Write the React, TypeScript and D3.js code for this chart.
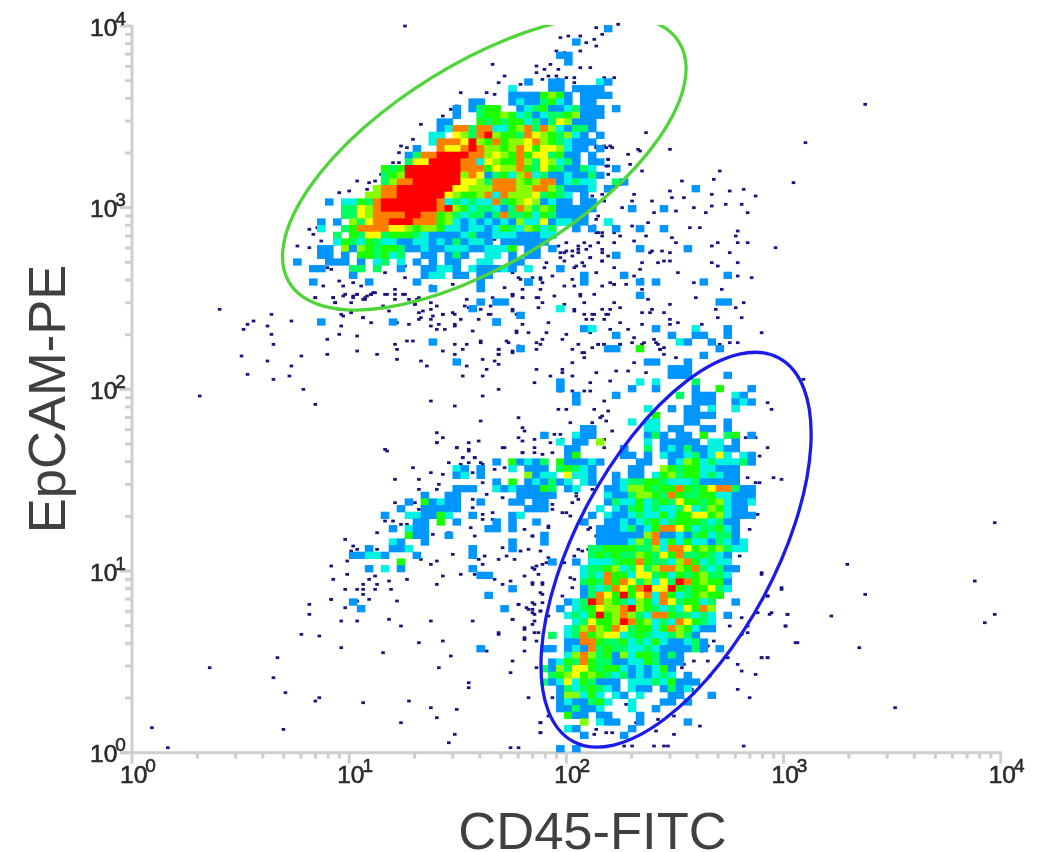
import React, { useEffect, useRef } from "react";
import * as d3 from "d3";

// axis ticks
const decades = [1, 10, 100, 1000, 10000];
const decadeExponents = ["0", "1", "2", "3", "4"];
const xTitle = "CD45-FITC";
const yTitle = "EpCAM-PE";

// gates: centre as fluorescence values
const gates = [
  { name: "epcam", cd45: 41.9, epcam: 1770, rx: 229, ry: 100, angle: -31.7, color: "#4fd43a" },
  { name: "cd45", cd45: 320, epcam: 13.1, rx: 217.6, ry: 99.4, angle: -61.8, color: "#1c1ce8" }
];

// density level of a bin -> colour
const levelColors: Record<string, string> = {
  b: "#0096ff",
  c: "#00f2e0",
  g: "#00ff60",
  l: "#1cff00",
  h: "#88ff00",
  y: "#ffff00",
  o: "#ff8000",
  r: "#ff0000"
};

// [epcam bin, first cd45 bin, density levels]
const upperCells: [number, number, string][] = [
  [108, 59, "b"], [106, 55, "b"], [104, 53, "bb"], [103, 54, "b"],
  [100, 49, "b  bb    cb"], [99, 47, "c    bb bbbb"], [98, 47, "bbbblhlb bbbb"],
  [97, 42, "bb   bcbbglcb bb"], [96, 40, "b bgll  bcglbbcgbbb b"], [95, 40, "b  gllhlcgbcgglhbbb"],
  [94, 38, "bb   lglgllcgbgyhbbb"], [93, 38, "bcoogoocclhogohcbggb"],
  [92, 37, "cc yhgorhllgoyhlghcb b"], [91, 37, "coooyrhlolhhyohlgcbbb"],
  [90, 35, "b  oyyorohhlhoylyyhcbb b"], [89, 34, "bgoorrrroohyhlolyyglbb b"],
  [88, 34, "gyyrrrroocyhllohgyhcgb bb"], [87, 31, "lglrrrrrrrooolyhholgylgbbgc  b"],
  [86, 31, "glhrrrrrrrhoybglchocgbbcbbgb"], [85, 31, "ghoorrrrrryyhgooohlhoobcgcc  gb"],
  [84, 30, "hoorrrrrrryyhhhooohhoohgbbbc b"], [83, 29, "hhoorrrrrryhllhocohhhyglgc b"],
  [82, 24, "b cclgorrrrrrrocgcgccoglhyhbcbb bb"], [81, 26, "ggyhorrrrrrrorhlcggcbgohghlhlb"],
  [80, 26, "ggyhoooorroolhgcggbgogglclgbbbb"], [79, 23, "b b hgyoorrrooolhcbcbcbcbhccybgcbb  c"],
  [78, 23, "c  glooooyyhlhhlccbccbclgchlcg  b"], [77, 25, "g lgyyglllgcbbbbcgbbcccbbbcc"],
  [76, 25, "clgclgccbbccbcbgbccb bbbbbb"], [75, 23, "bb hbhlgllgbbcbbcccbbcccl bb b"],
  [74, 23, "bb b llglcg  bb bgb  cc b bb"], [73, 20, "b   bbb b cg c b b bb  cc  bb"],
  [72, 22, "bb   gg g  b  bbccb cbbbcb c"], [71, 27, "b        bcc bb bb"],
  [70, 22, "b      b     b       b     b"], [69, 37, "b     b"], [67, 43, "b bb"],
  [66, 42, "b"], [65, 48, "b"], [64, 23, "b        b            b"], [61, 37, "b"], [58, 40, "b"]
];

// isolated bins between the two populations
const middleCells: [number, number, string][] = [
  [84, 59, "b          b"], [82, 57, "b"], [81, 53, "bbbbb    b   b"], [79, 53, "c     c"],
  [78, 57, "b  b  b  b"], [75, 63, "b     b"], [74, 60, "b"], [72, 53, "b"], [71, 56, "b    b            b"],
  [70, 49, "b      b      b b     b"], [68, 63, "b"], [67, 73, "bb"], [66, 53, "c"], [64, 45, "b"],
  [63, 56, "bc       b    c   b"], [62, 60, "b      b  bb  b"], [61, 68, "cb  b"], [60, 48, "b"],
  [60, 59, "bb  l         b"], [59, 71, "b"]
];

// the streak running down to the left of the CD45 population
const branchCells: [number, number, string][] = [
  [47, 51, "b"], [46, 53, "c"], [45, 54, "bb"], [44, 54, "bl"], [43, 45, "b lbcbg lbbbc"],
  [42, 40, "cb b   c bbb glgcb"], [41, 40, "bc b     hbcc yccb"], [40, 45, "b l bcbgbc cg"],
  [39, 40, "bbb  cbcbbblg bc"], [38, 36, "b  bb"], [38, 48, "bbbbb"], [37, 34, "b lbcbb"], [37, 43, "b"], [37, 47, "bb bb"],
  [36, 33, "b  bbbbb"], [36, 49, "bbb"], [35, 31, "b  ccbblc  b    bc"], [34, 35, "bb l b    b b  b"],
  [33, 32, "b cbb       bb b"], [32, 34, "lbb  b"], [32, 51, "b"], [31, 32, "cb  b"], [31, 47, "b"], [31, 51, "b"],
  [30, 29, "b  bbc"], [30, 42, "b"], [30, 47, "b"], [29, 27, "bbccb"], [29, 35, "b"], [29, 42, "b"],
  [28, 33, "l"], [28, 52, "b"], [27, 29, "b c b"], [27, 42, "b"], [26, 43, "bb"], [24, 47, "b"],
  [23, 44, "b"], [22, 27, "b"], [21, 28, "b"], [21, 46, "b"], [15, 43, "b"]
];

const lowerCells: [number, number, string][] = [
  [58, 64, "bb   b"], [57, 67, "bbb"], [56, 67, "bbb    b"], [55, 53, "b"], [55, 63, "c c    g"],
  [54, 53, "b"], [54, 62, "b  b    b  l   b"], [53, 55, "b    b       g bbb  cb"], [52, 55, "b"], [52, 70, "bbb  bcb"],
  [51, 64, "c  b bb c  c"], [50, 65, "l   bbbb"], [49, 62, "c cc   bb   b"], [48, 56, "bb"], [48, 64, "cc bb  bb b"],
  [47, 55, "cbb"], [47, 64, "bgb bb l  gl b"], [46, 55, "bb h"], [46, 64, "c bbbbb cc b"],
  [45, 61, "b  g bcbgbbccbb"], [44, 61, "bb b cbbcgbcyc cb"], [43, 58, "b    bb  bchlcgcccgb"], [42, 62, "bb  hlgllccbbb"],
  [41, 60, "b bb clhgllcgcbb"], [40, 57, "b  bcggllgcccgbbbbb"],
  [39, 59, "bbchhlgllolglyoogbb"], [38, 59, "cbbghhlgolggllccbbb"], [37, 59, "bgcclcglgyllglhcbbc"],
  [36, 58, "c cbglcgccgycghlcbb"], [35, 57, "b cbbcgcclcllyylhcbbb"], [34, 56, "b  bbcbcglcglllgcgbb"],
  [33, 58, "bbbcgbclooylcgglcb"], [32, 58, "bbbbbbhobbcbglcggb"], [31, 58, "bbbbchgoclclccbgcbc"],
  [30, 57, "ggllllgghcooylhlhgcc"], [29, 57, "glglgghlgylogglgcb"], [28, 55, "b cccgllolggcholcgcc"],
  [27, 56, "cgglhcgyghoohlogcgbb"], [26, 56, "cgcollcyyglclglhggc"], [25, 56, "glgoloyghcygrolhllb"],
  [24, 56, "bgcgoyloryyrlgllygc"], [23, 56, "bgoylrlyocolcglhll"], [22, 54, "bcgrohlgchlcoygllcg  b"],
  [21, 53, "b cglyhhorhlgcgcyloh"], [20, 54, "cgclrlhohgcoolggcgc b"], [19, 55, "cgyllhrolhcgcoylgc"],
  [18, 54, "cghohloygllclohlcbb"], [17, 52, "g cgolhyycglgccghgb"], [16, 54, "bboolgglcgclcbbcgb"],
  [15, 51, "bb bcboglggccgcbbbbgb b"], [14, 54, "chohglbhcllgbgb"], [13, 52, "bclgolggbbcclgbbb"],
  [12, 51, "gbhgyylgllcbcbclb"], [11, 52, "glhylhlgcgbcbcgc b"], [10, 51, "gbcyclgbbb cccgclbbb"],
  [9, 53, "bgcglgcb cbb bgbc"], [8, 53, "bhhclc cb c   bb   b"], [7, 53, "bcbbglc  c   bb b"],
  [6, 53, "bbgbbc   c  b"], [5, 54, "lbb bb   b"], [4, 56, "h cbb  b     b"], [3, 54, "cb      b"],
  [2, 56, "b    b"], [0, 53, "b b"]
];

// single events as [cd45 channel, epcam channel]
const dotsUpper: [number, number][] = [
  [137,436],[244,437],[233,435],[215,429],[219,430],[225,430],[232,428],[236,431],[228,426],[233,424],[225,421],[213,421],[217,420],
  [210,413],[181,413],[203,412],[203,408],[214,410],[207,410],[213,406],[187,406],[209,406],[225,411],[230,411],[222,405],[218,405],
  [222,402],[184,402],[195,401],[206,404],[214,404],[237,405],[242,405],[165,396],[178,396],[182,395],[156,382],[163,388],[160,386],
  [145,377],[141,368],[135,364],[138,363],[134,360],[131,354],[125,347],[134,354],[140,356],[113,343],[119,342],[122,343],[109,337],
  [104,336],[118,338],[106,331],[89,314],[93,315],[91,311],[95,307],[83,304],[89,303],[94,303],[98,291],[100,290],[96,280],[106,280],
  [111,282],[104,283],[115,280],[92,273],[101,273],[106,274],[102,270],[111,274],[113,275],[117,272],[118,274],[120,275],[121,276],
  [127,275],[132,278],[132,275],[137,275],[137,285],[142,269],[143,272],[106,262],[110,264],[116,261],[242,386],[238,363],[241,363],
  [233,363],[239,356],[238,352],[232,341],[242,341],[239,347],[236,335],[232,328],[228,320],[234,312],[232,316],[236,312],[242,312],
  [227,306],[234,306],[236,300],[224,302],[221,301],[217,300],[230,297],[223,292],[236,295],[217,295],[215,297],[205,284],[207,291],
  [201,285],[194,285],[191,288],[191,274],[204,273],[212,274],[217,269],[225,274],[232,275],[236,280],[242,281],[222,280],[217,280],
  [179,263],[156,263],[161,264],[151,262],[146,265],[145,261],[167,268],[169,267],[191,265],[204,267],[222,265],[227,263],[232,263],
  [238,263],[162,304],[156,316],[177,293],[161,281],[150,280],[137,292],[127,288],[202,304],[182,308],[181,337],[179,335],[196,352],
  [194,355],[204,360],[368,389],[338,366],[332,342]
];

const dotsFarLeft: [number, number][] = [
  [44,266],[70,263],[61,259],[58,257],[56,254],[68,256],[70,251],[71,245],[80,259],[55,238],[68,235],[85,238],[80,232],[58,227],[71,224],
  [79,226],[86,218],[34,214],[92,209],[98,248],[98,239],[104,251],[105,256],[113,250],[113,241],[123,239],[132,245],[133,242],[133,236],
  [138,247],[141,247],[145,235],[148,232],[156,241],[162,245],[168,245],[166,242],[162,239],[175,247],[188,247],[184,242],[184,239],
  [191,241],[194,244],[176,236],[182,235],[184,233],[178,230],[168,232],[166,226],[176,226],[184,218],[176,214],[150,211],[162,208],
  [175,199],[194,201],[196,195],[197,193],[194,189],[196,187],[174,187],[169,186],[169,181],[163,183],[153,192],[156,189],[153,186],
  [187,183],[196,180],[128,181],[166,177],[172,177],[159,174],[165,173],[169,174],[175,174],[176,173],[141,171],[92,273],[101,273],
  [102,270],[107,275],[110,270],[111,273],[113,275],[116,272],[117,273],[120,275],[122,276],[128,275],[132,272],[136,275],[139,272],
  [144,273],[150,270],[126,268],[104,266],[105,263],[110,265],[116,261],[129,265],[120,258],[133,258],[139,257],[144,260],[144,264],
  [142,269],[150,266],[153,268],[156,263],[162,263],[165,260],[150,260],[150,256],[154,257],[153,254],[157,254],[162,257],[162,256],
  [174,260],[171,253],[180,263],[175,266],[180,268],[181,273],[168,272],[193,253],[196,257],[191,266],[193,263],[191,275],[196,273]
];

const dotsMiddle: [number, number][] = [
  [233,364],[237,364],[240,364],[239,356],[239,352],[249,359],[250,353],[254,362],[255,361],[270,362],[256,349],[258,372],[295,349],
  [292,344],[276,343],[231,343],[245,341],[242,340],[270,337],[252,335],[291,335],[300,337],[307,338],[313,334],[271,333],[277,333],
  [251,331],[261,331],[237,331],[231,334],[227,335],[298,329],[306,329],[291,328],[282,327],[273,325],[288,324],[309,324],[246,327],
  [262,324],[234,322],[259,318],[233,320],[280,315],[285,315],[304,313],[303,310],[251,316],[258,310],[271,309],[273,306],[245,310],
  [252,307],[236,310],[233,312],[230,304],[224,304],[242,306],[236,302],[214,304],[218,306],[215,300],[218,301],[221,298],[224,300],
  [228,302],[230,297],[236,295],[239,298],[260,300],[261,301],[266,301],[270,300],[291,304],[294,306],[304,306],[309,306],[323,303],
  [300,300],[270,295],[267,295],[264,294],[256,294],[291,294],[294,292],[304,294],[222,291],[226,294],[227,292],[242,291],[208,294],
  [233,288],[255,290],[274,288],[252,286],[211,286],[304,286],[311,285],[205,285],[221,284],[256,284],[282,282],[240,282],[242,281],
  [248,281],[256,278],[195,284],[206,282],[187,279],[196,278],[205,278],[191,275],[203,273],[196,273],[206,270],[225,275],[227,270],
  [296,278],[283,273],[259,272],[270,269],[307,270],[303,267],[242,270],[245,267],[222,266],[236,266],[240,266],[261,266],[256,264],
  [260,264],[267,264],[293,266],[231,263],[239,263],[228,260],[231,260],[237,260],[294,261],[306,261],[270,260],[209,258],[245,258],
  [274,258],[256,257],[270,257],[286,257],[193,252],[199,252],[208,252],[218,251],[230,252],[240,254],[249,254],[316,252],[252,249],
  [216,248],[206,248],[189,246],[262,248],[175,246],[251,246],[231,243],[234,245],[237,245],[245,245],[256,245],[264,245],[267,243],
  [300,246],[304,246],[295,245],[203,242],[205,245],[194,243],[184,242],[191,240],[221,242],[227,240],[265,242],[184,239],[227,237],
  [273,237],[311,240]
];

const dotsLower: [number, number][] = [
  [337,224],[319,210],[321,206],[319,183],[315,178],[311,178],[308,178],[313,189],[308,189],[322,165],[326,164],[315,162],[313,162],
  [309,165],[312,151],[314,143],[310,134],[305,118],[316,108],[326,99],[319,94],[314,84],[321,84],[329,83],[328,76],[306,81],[309,76],
  [300,76],[309,72],[306,71],[333,66],[316,57],[319,57],[304,53],[306,49],[313,47],[304,38],[310,33],[290,46],[292,67],[289,64],[286,61],
  [282,55],[289,55],[277,53],[276,51],[299,57],[281,38],[272,32],[282,36],[279,19],[285,16],[272,11],[263,13],[256,22],[253,18],[248,29],
  [272,22],[264,20],[262,4],[267,4],[269,4],[307,4],[247,4],[251,4],[241,12],[238,12],[233,14],[232,11],[205,18],[205,12],[209,22],
  [211,33],[210,48],[211,50],[204,72],[202,72],[203,67],[206,90],[201,90],[201,86],[209,82],[216,94],[205,96],[201,102],[206,102],
  [220,105],[222,104],[221,99],[202,110],[206,113],[208,114],[217,114],[205,121],[209,117],[222,118],[226,121],[229,122],[233,130],
  [229,134],[224,122],[201,130],[209,136],[220,142],[225,138],[230,135],[223,154],[224,152],[211,149],[211,146],[216,144],[218,144],
  [221,150],[223,156],[231,158],[203,246],[224,245],[234,245],[237,245],[226,240],[245,245],[263,246],[265,242],[267,239],[257,246],
  [252,234],[221,234],[203,230],[216,230],[216,228],[210,226],[221,226],[233,228],[230,222],[240,223],[243,229],[249,229],[258,228],
  [202,222],[215,217],[221,217],[227,217],[230,217],[237,211],[214,206],[218,206],[232,206],[239,205],[220,198],[235,201],[236,202],
  [238,199],[231,198],[241,193],[215,191],[212,191],[237,188],[230,191],[210,186],[216,188],[237,183],[202,188],[206,179],[211,180],[202,183]
];

const dotsBranch: [number, number][] = [
  [127,182],[153,186],[163,183],[169,182],[166,177],[172,177],[150,168],[156,167],[132,164],[144,164],[154,161],[144,158],[153,158],
  [148,154],[132,150],[142,150],[144,146],[127,139],[131,139],[135,137],[138,137],[123,132],[107,128],[111,124],[113,122],[110,121],
  [123,122],[108,115],[122,118],[100,112],[108,107],[101,104],[122,106],[119,104],[116,101],[123,101],[129,103],[130,98],[138,104],
  [107,98],[113,98],[116,98],[122,98],[116,95],[119,92],[100,92],[113,91],[133,91],[107,87],[145,116],[150,113],[153,115],[156,106],
  [153,101],[165,107],[161,119],[151,131],[159,132],[172,130],[170,135],[176,143],[176,140],[181,144],[181,140],[171,147],[186,153],
  [178,155],[171,152],[176,162],[171,168],[167,167],[182,170],[187,171],[186,183],[196,180],[202,180],[195,121],[186,123],[184,116],
  [188,118],[192,116],[199,122],[201,130],[197,134],[209,135],[201,111],[203,112],[204,107],[197,106],[182,104],[186,101],[190,103],
  [201,101],[206,101],[206,95],[194,89],[198,87],[201,84],[205,85],[197,75],[201,77],[191,80],[184,72],[197,69],[172,107],[176,113],
  [174,116],[177,118]
];

const dotsBottom: [number, number][] = [
  [89,89],[89,83],[100,92],[105,79],[113,79],[129,80],[135,76],[150,79],[171,79],[85,71],[94,70],[105,63],[126,60],[144,66],[156,67],
  [160,58],[154,51],[73,57],[71,45],[77,36],[94,33],[92,31],[116,30],[139,31],[150,27],[163,26],[153,21],[135,18],[76,14],[162,11],
  [159,6],[169,42],[169,39],[190,48],[191,55],[197,61],[197,68],[197,74],[184,71],[191,80],[202,79],[194,89],[199,86],[202,89],[202,83],
  [205,85],[199,33],[205,18],[205,12],[190,3],[194,3],[203,51],[178,61],[10,15],[18,3],[39,51]
];

const dotsFarRight: [number, number][] = [
  [433,138],[359,113],[423,103],[326,98],[368,95],[319,94],[316,107],[433,83],[428,78],[329,83],[320,83],[351,82],[328,76],[334,66],
  [365,63],[316,57],[319,57],[383,27]
];

const CHANNELS_PER_DECADE = 109;
const BINS_PER_DECADE = CHANNELS_PER_DECADE / 4;

function drawPlot(svgEl: SVGSVGElement) {
  const svg = d3.select(svgEl);
  svg.selectAll("*").remove();

  const font = "'Liberation Sans', Arial, sans-serif";
  const x = d3.scaleLog().domain([1, 10000]).range([132, 1000.7]);
  const y = d3.scaleLog().domain([1, 10000]).range([752.7, 26]);

  const defs = svg.append("defs");
  defs.append("filter").attr("id", "soft").attr("x", "-5%").attr("y", "-5%").attr("width", "110%").attr("height", "110%")
    .append("feGaussianBlur").attr("stdDeviation", 0.55);
  defs.append("filter").attr("id", "softText").attr("x", "-5%").attr("y", "-5%").attr("width", "110%").attr("height", "110%")
    .append("feGaussianBlur").attr("stdDeviation", 0.4);
  defs.append("clipPath").attr("id", "plotClip")
    .append("rect").attr("x", 100).attr("y", 25).attr("width", 948).attr("height", 760);

  // axes
  const axisColor = "#cfcfcf";
  const axes = svg.append("g").attr("filter", "url(#softText)").attr("stroke", axisColor).attr("stroke-width", 3);
  axes.append("line").attr("x1", x(1)).attr("x2", x(1)).attr("y1", y(10000) - 1).attr("y2", y(1));
  axes.append("line").attr("x1", x(1) - 12).attr("x2", x(10000) + 1).attr("y1", y(1)).attr("y2", y(1));

  const allTicks = x.ticks().filter((d) => d <= 10000);
  const isDecade = (d: number) => decades.includes(d);
  axes.selectAll(".xtick").data(allTicks).enter().append("line")
    .attr("class", "xtick")
    .attr("x1", (d) => x(d)).attr("x2", (d) => x(d))
    .attr("y1", y(1))
    .attr("y2", (d) => y(1) + (isDecade(d) ? 11 : 6));
  axes.selectAll(".ytick").data(allTicks).enter().append("line")
    .attr("class", "ytick")
    .attr("y1", (d) => y(d)).attr("y2", (d) => y(d))
    .attr("x1", x(1))
    .attr("x2", (d) => x(1) - (isDecade(d) ? 12 : 7));

  // events
  const plot = svg.append("g").attr("filter", "url(#soft)");
  const channelValue = (ch: number) => Math.pow(10, ch / CHANNELS_PER_DECADE);
  const dots = [...dotsUpper, ...dotsFarLeft, ...dotsMiddle, ...dotsLower, ...dotsBranch, ...dotsBottom, ...dotsFarRight];
  plot.append("g").selectAll("rect").data(dots).enter().append("rect")
    .attr("x", (d) => x(channelValue(d[0])) - 1.8)
    .attr("y", (d) => y(channelValue(d[1])) - 1.4)
    .attr("width", 3.6)
    .attr("height", 2.8)
    .attr("fill", "#14147e");

  // density bins
  const cells = [...upperCells, ...middleCells, ...branchCells, ...lowerCells].flatMap(([row, first, levels]) =>
    levels.split("").map((level, i) => ({ row, col: first + i, level })).filter((d) => d.level !== " ")
  );
  const binValue = (bin: number) => Math.pow(10, bin / BINS_PER_DECADE);
  plot.append("g").selectAll("rect").data(cells).enter().append("rect")
    .attr("x", (d) => x(binValue(d.col + 0.25)) - 0.3)
    .attr("y", (d) => y(binValue(d.row + 1.1)) - 0.3)
    .attr("width", (d) => x(binValue(d.col + 1.25)) - x(binValue(d.col + 0.25)) + 0.6)
    .attr("height", (d) => y(binValue(d.row + 0.1)) - y(binValue(d.row + 1.1)) + 0.6)
    .attr("fill", (d) => levelColors[d.level]);

  // gates
  svg.append("g").attr("clip-path", "url(#plotClip)")
    .selectAll("ellipse").data(gates).enter().append("ellipse")
    .attr("cx", 0).attr("cy", 0)
    .attr("rx", (d) => d.rx).attr("ry", (d) => d.ry)
    .attr("transform", (d) => `translate(${x(d.cd45)},${y(d.epcam)}) rotate(${d.angle})`)
    .attr("fill", "none")
    .attr("stroke", (d) => d.color)
    .attr("stroke-width", 3.3);

  // tick labels
  const labels = svg.append("g").attr("filter", "url(#softText)").attr("font-family", font).attr("fill", "#2a2a2a")
    .attr("stroke", "#2a2a2a").attr("stroke-width", 0.6);
  const addPower = (sel: any, exp: string) => {
    sel.append("tspan").attr("font-size", 24.5).text("10");
    sel.append("tspan").attr("font-size", 19).attr("dy", -11).attr("dx", -2).text(exp);
  };
  decades.forEach((d, i) => {
    const xLabel = labels.append("text").attr("x", x(d) - 12).attr("y", y(1) + 30.5);
    addPower(xLabel, decadeExponents[i]);
    const yLabel = labels.append("text").attr("x", x(1) - 42).attr("y", y(d) + 9.5);
    addPower(yLabel, decadeExponents[i]);
  });

  // titles
  svg.append("text").attr("x", 592.5).attr("y", 848.5).attr("text-anchor", "middle")
    .attr("font-family", font).attr("font-size", 52.5).attr("fill", "#404040").attr("filter", "url(#softText)")
    .text(xTitle);
  svg.append("text").attr("transform", "translate(65,399) rotate(-90)").attr("text-anchor", "middle")
    .attr("font-family", font).attr("font-size", 52.5).attr("fill", "#404040").attr("filter", "url(#softText)")
    .text(yTitle);
}

const App = () => {
  const svgEl = useRef<SVGSVGElement>(null);

  useEffect(() => {
    if (!svgEl.current) return;
    drawPlot(svgEl.current);
  }, []);

  return (
    <svg
      ref={svgEl}
      width={1048}
      height={852}
      style={{ position: "absolute", left: 0, top: 0, display: "block", background: "#fff" }}
    />
  );
};

export default App;
